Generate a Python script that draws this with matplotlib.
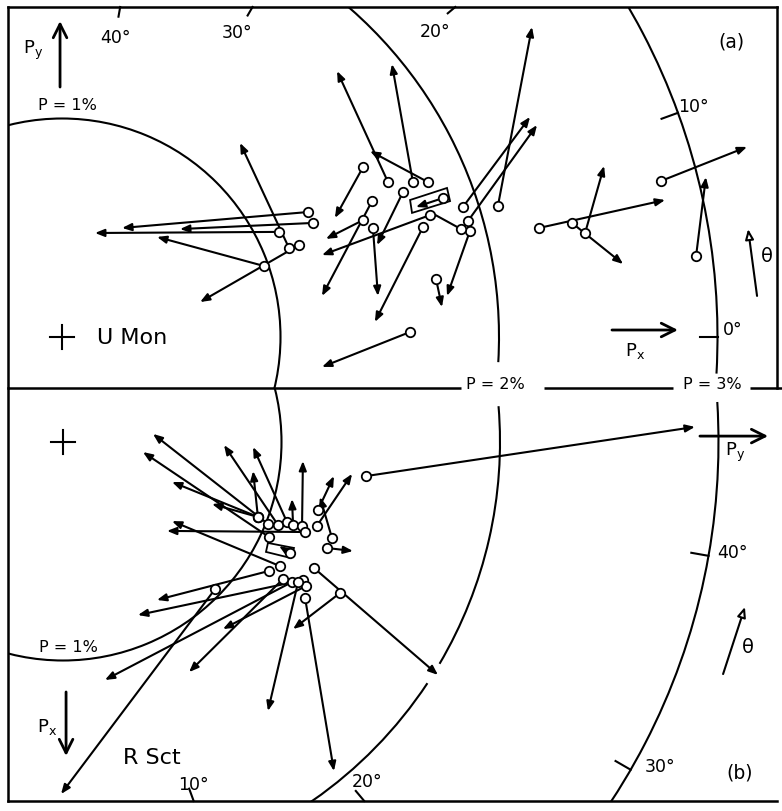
import numpy as np
import matplotlib.pyplot as plt
from matplotlib.patches import Arc, Polygon

plt.rcParams['font.family'] = 'DejaVu Sans'

# ---- (a) U Mon: polarization vectors, tail (circle) -> head, in per cent
mon_px0 = [1.126, 1.149, 0.993, 1.039, 1.085, 0.924, 1.378, 1.492, 1.606, 1.675,
           1.419, 1.378, 1.423, 1.561, 1.652, 1.684, 1.744, 1.835, 1.858, 1.995,
           1.867, 1.712, 1.593, 2.183, 2.334, 2.394, 2.741, 2.902]
mon_py0 = [0.572, 0.522, 0.481, 0.407, 0.421, 0.325, 0.778, 0.709, 0.709, 0.709,
           0.622, 0.535, 0.499, 0.664, 0.503, 0.558, 0.636, 0.595, 0.531, 0.600,
           0.485, 0.265, 0.023, 0.499, 0.522, 0.476, 0.714, 0.371]
mon_px1 = [0.275, 0.540, 0.151, 0.815, 0.632, 0.435, 1.249, 1.259, 1.510, 1.410,
           1.190, 1.208, 1.446, 1.442, 1.432, 1.190, 1.620, 2.142, 2.174, 2.151,
           1.762, 1.739, 1.190, 2.760, 2.568, 2.481, 3.135, 2.947]
mon_py1 = [0.499, 0.494, 0.476, 0.888, 0.160, 0.458, 0.545, 1.217, 1.249, 0.851,
           0.188, 0.449, 0.188, 0.421, 0.069, 0.375, 0.595, 1.007, 0.970, 1.419,
           0.188, 0.137, -0.137, 0.627, 0.334, 0.783, 0.870, 0.732]
mon_extra_px = [1.826]
mon_extra_py = [0.494]
mon_link_px = [1.826, 1.684]
mon_link_py = [0.494, 0.572]
mon_box_px = [1.593, 1.762, 1.776, 1.602]
mon_box_py = [0.627, 0.682, 0.622, 0.568]

# ---- (b) R Sct
sct_px0 = [0.375, 0.435, 0.343, 0.343, 0.343, 0.380, 0.366, 0.380, 0.384, 0.311,
           0.384, 0.439, 0.485, 0.568, 0.412, 0.590, 0.632, 0.659, 0.641, 0.627,
           0.641, 0.714, 0.673, 0.691, 0.577, 0.156, 0.508]
sct_py0 = [0.938, 0.943, 0.892, 0.892, 0.892, 0.984, 1.025, 1.053, 1.094, 1.167,
           1.162, 1.231, 1.208, 0.993, 1.108, 0.943, 1.098, 1.112, 1.048, 1.007,
           1.076, 1.108, 0.696, 1.268, 1.149, 1.387, 1.039]
sct_px1 = [-0.037, 0.046, 0.183, 0.284, 0.133, 0.014, 0.023, 0.261, 0.087, 0.156,
           0.146, 0.252, 0.499, 0.362, 0.407, 0.723, 0.792, 0.856, 1.089, 1.053,
           1.231, 1.506, 1.611, 0.856, 1.066, -0.069, 0.476]
sct_py1 = [0.412, 0.366, 0.499, 0.682, 0.870, 0.737, 0.870, 1.048, 1.098, 1.240,
           1.323, 1.176, 1.327, 0.499, 0.476, 0.430, 0.343, 0.732, 0.192, 0.577,
           0.938, 1.240, -0.009, 1.053, 1.716, 2.892, 0.989]
sct_box_px = [0.462, 0.485, 0.531, 0.503]
sct_box_py = [0.938, 1.057, 1.043, 0.929]

PX_PER_PCT = 218.5
W, H = 782, 812
LW = 1.5
fig = plt.figure(figsize=(W / 100, H / 100), dpi=100)


def make_panel(x0, y0, x1, y1, cx, cy, flip):
    ax = fig.add_axes([x0 / W, 1 - y1 / H, (x1 - x0) / W, (y1 - y0) / H])
    ax.set_xlim((x0 - cx) / PX_PER_PCT, (x1 - cx) / PX_PER_PCT)
    if flip:
        ax.set_ylim((y1 - cy) / PX_PER_PCT, (y0 - cy) / PX_PER_PCT)
    else:
        ax.set_ylim((cy - y1) / PX_PER_PCT, (cy - y0) / PX_PER_PCT)
    ax.set_xticks([])
    ax.set_yticks([])
    ax.patch.set_visible(False)
    for sp in ax.spines.values():
        sp.set_linewidth(1.8)
    return ax


ax_a = make_panel(8, 8, 777, 389, 62, 338, flip=False)
ax_b = make_panel(8, 389, 777, 802, 63, 443, flip=True)
ax_a.spines['bottom'].set_visible(False)
ax_b.spines['top'].set_visible(False)
ax_b.spines['right'].set_visible(False)

HEAD = '-|>,head_length=0.55,head_width=0.22'
BIG = '->,head_length=0.7,head_width=0.35'
OPEN = '-|>,head_length=0.6,head_width=0.25'


def vectors(ax, x0, y0, x1, y1):
    for a, b, c, d in zip(x0, y0, x1, y1):
        ax.annotate('', xy=(c, d), xytext=(a, b),
                    arrowprops=dict(arrowstyle=HEAD, lw=LW, color='k',
                                    shrinkA=0, shrinkB=0, mutation_scale=10))
    ax.plot(x0, y0, 'o', ms=6.8, mfc='white', mec='k', mew=1.3,
            ls='none', zorder=5)


def rings(ax, pieces):
    for r, t1, t2 in pieces:
        ax.add_patch(Arc((0, 0), 2 * r, 2 * r, theta1=t1, theta2=t2,
                         lw=LW, color='k'))


def plus(ax, size=0.057):
    ax.plot([-size, size], [0, 0], color='k', lw=LW)
    ax.plot([0, 0], [-size, size], color='k', lw=LW)


def pointer(ax, start, end, style, lw, scale, fc='k'):
    ax.annotate('', xy=end, xytext=start,
                arrowprops=dict(arrowstyle=style, lw=lw, color='k', fc=fc,
                                shrinkA=0, shrinkB=0, mutation_scale=scale))


# ---- panel (a): Px to the right, Py up
rings(ax_a, [(1, 0, 360), (2, -3.3, 120), (3, -3.2, 120)])
vectors(ax_a, mon_px0, mon_py0, mon_px1, mon_py1)
ax_a.plot(mon_link_px, mon_link_py, color='k', lw=LW)
ax_a.plot(mon_extra_px, mon_extra_py, 'o', ms=6.8, mfc='white', mec='k',
          mew=1.3, zorder=5)
ax_a.add_patch(Polygon(list(zip(mon_box_px, mon_box_py)), closed=True,
                       fill=False, lw=1.3, ec='k'))
plus(ax_a)

ytop = ax_a.get_ylim()[1]
for th in [20, 30, 40]:
    ang = np.radians(2 * th)
    r = ytop / np.sin(ang)
    rr = np.array([r - 0.045, r])
    ax_a.plot(rr * np.cos(ang), rr * np.sin(ang), color='k', lw=LW,
              clip_on=False)
for th in [0, 10]:
    ang = np.radians(2 * th)
    rr = np.array([2.92, 3.0])
    ax_a.plot(rr * np.cos(ang), rr * np.sin(ang), color='k', lw=LW)

txt = dict(fontsize=12.5, ha='center', va='center')
ax_a.text(0.243, 1.373, '40°', **txt)
ax_a.text(0.801, 1.396, '30°', **txt)
ax_a.text(1.707, 1.400, '20°', **txt)
ax_a.text(2.888, 1.057, '10°', **txt)
ax_a.text(3.071, 0.037, '0°', **txt)
ax_a.text(3.066, 1.355, '(a)', fontsize=13.5, ha='center', va='center')
ax_a.text(0.023, 1.066, 'P = 1%', fontsize=11.5, ha='center', va='center')
ax_a.text(0.160, 0.0, 'U Mon', fontsize=16, ha='left', va='center')

pointer(ax_a, (-0.009, 1.144), (-0.009, 1.446), BIG, 2.0, 14)
ax_a.text(-0.133, 1.318, r'P$_\mathregular{y}$', fontsize=13,
          ha='center', va='center')
pointer(ax_a, (2.517, 0.032), (2.819, 0.032), BIG, 2.0, 14)
ax_a.text(2.622, -0.060, r'P$_\mathregular{x}$', fontsize=13,
          ha='center', va='center')
pointer(ax_a, (3.181, 0.188), (3.140, 0.494), OPEN, LW, 10, fc='white')
ax_a.text(3.227, 0.371, 'θ', fontsize=14, ha='center', va='center')

# dividing line between the panels, broken for the ring labels
ybot = ax_a.get_ylim()[0]
for xa, xb in [(-0.247, 1.826), (2.206, 2.796), (3.149, 3.30)]:
    ax_a.plot([xa, xb], [ybot, ybot], color='k', lw=1.8, clip_on=False,
              solid_capstyle='butt')
ax_a.text(1.982, ybot + 0.02, 'P = 2%', fontsize=11.5, ha='center',
          va='center')
ax_a.text(2.975, ybot + 0.02, 'P = 3%', fontsize=11.5, ha='center',
          va='center')

# ---- panel (b): Py to the right, Px down
rings(ax_b, [(1, 0, 360), (2, -4.7, 30.5), (2, 33.5, 120), (3, -3.5, 120)])
vectors(ax_b, sct_py0, sct_px0, sct_py1, sct_px1)
ax_b.add_patch(Polygon(list(zip(sct_box_py, sct_box_px)), closed=True,
                       fill=False, lw=1.3, ec='k'))
plus(ax_b)

ybt = ax_b.get_ylim()[0]
for th in [10, 20]:
    ang = np.radians(2 * th)
    r = ybt / np.cos(ang)
    rr = np.array([r - 0.06, r])
    ax_b.plot(rr * np.sin(ang), rr * np.cos(ang), color='k', lw=LW,
              clip_on=False)
for th in [30, 40]:
    ang = np.radians(2 * th)
    rr = np.array([2.92, 3.0])
    ax_b.plot(rr * np.sin(ang), rr * np.cos(ang), color='k', lw=LW)

ax_b.text(0.595, 1.565, '10°', **txt)
ax_b.text(1.391, 1.551, '20°', **txt)
ax_b.text(2.732, 1.483, '30°', **txt)
ax_b.text(3.066, 0.503, '40°', **txt)
ax_b.text(3.098, 1.510, '(b)', fontsize=13.5, ha='center', va='center')
ax_b.text(0.407, 1.442, 'R Sct', fontsize=16, ha='center', va='center')
ax_b.text(0.023, 0.938, 'P = 1%', fontsize=11.5, ha='center', va='center')

pointer(ax_b, (2.915, -0.027), (3.227, -0.027), BIG, 2.0, 14)
ax_b.text(3.076, 0.045, r'P$_\mathregular{y}$', fontsize=13,
          ha='center', va='center')
pointer(ax_b, (0.014, 1.144), (0.014, 1.437), BIG, 2.0, 14)
ax_b.text(-0.073, 1.300, r'P$_\mathregular{x}$', fontsize=13,
          ha='center', va='center')
pointer(ax_b, (3.021, 1.062), (3.121, 0.755), OPEN, LW, 10, fc='white')
ax_b.text(3.135, 0.938, 'θ', fontsize=14, ha='center', va='center')

fig.savefig('out.png', dpi=100)
